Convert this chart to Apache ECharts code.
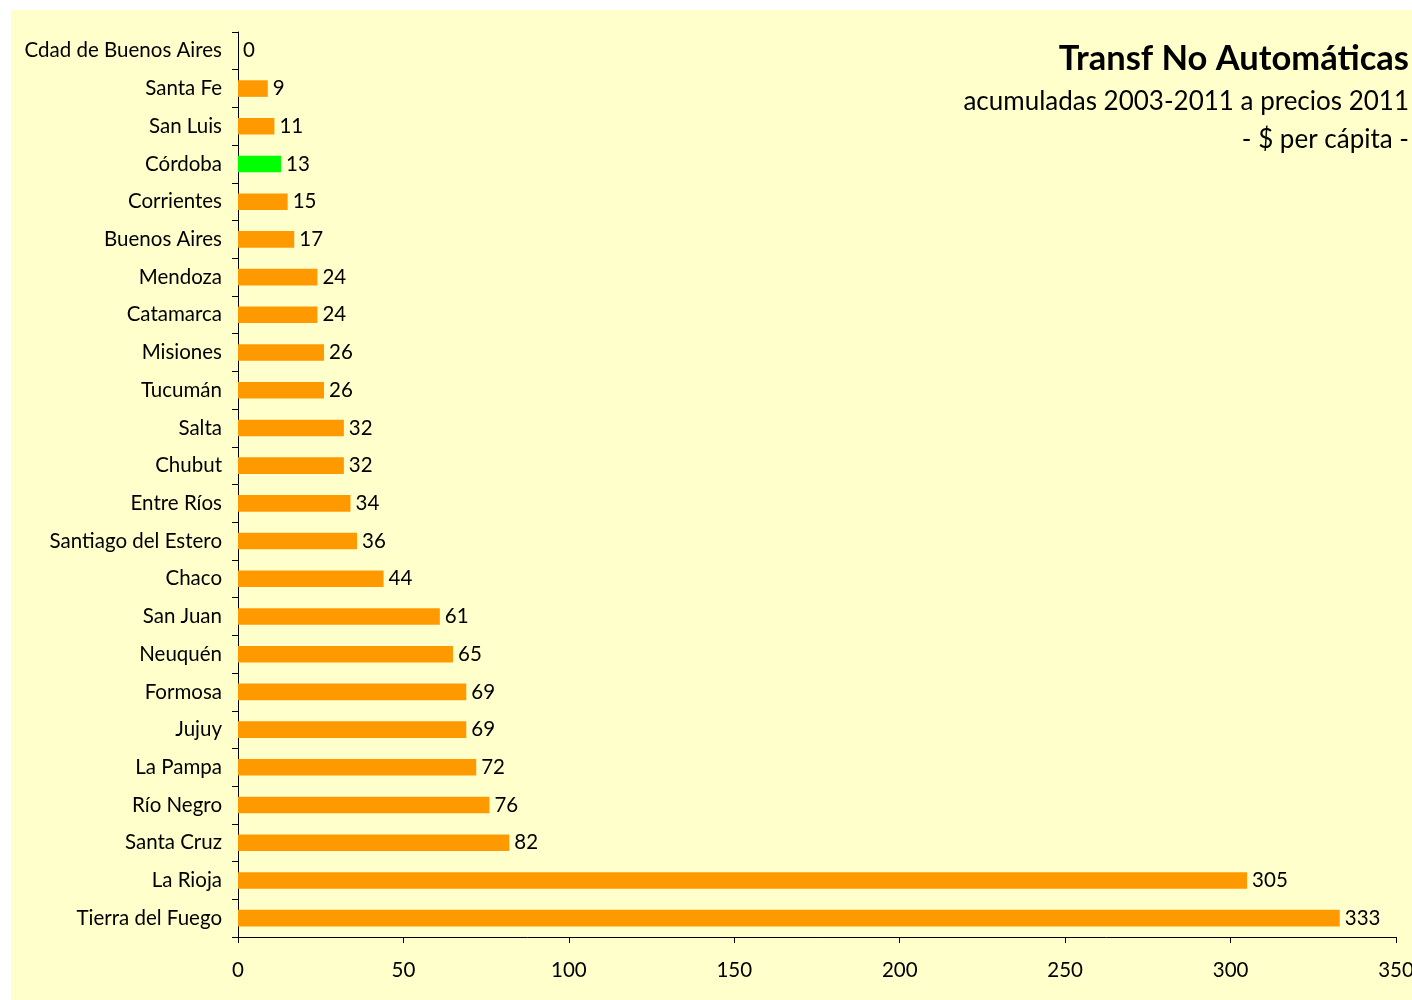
<!DOCTYPE html>
<html>
<head>
<meta charset="utf-8">
<script src="https://cdn.jsdelivr.net/npm/echarts@6/dist/echarts.min.js"></script>
<style>
html,body{margin:0;padding:0;background:#fff;}
#c{position:absolute;left:11px;top:10px;width:1401px;height:990px;background:#FFFFCC;}
</style>
</head>
<body>
<div id="c"></div>
<script>
const categories = ["Cdad de Buenos Aires","Santa Fe","San Luis","Córdoba","Corrientes","Buenos Aires","Mendoza","Catamarca","Misiones","Tucumán","Salta","Chubut","Entre Ríos","Santiago del Estero","Chaco","San Juan","Neuquén","Formosa","Jujuy","La Pampa","Río Negro","Santa Cruz","La Rioja","Tierra del Fuego"];
const values = [0,9,11,13,15,17,24,24,26,26,32,32,34,36,44,61,65,69,69,72,76,82,305,333];
const highlight = "Córdoba";
const titleText = "Transf No Automáticas";
const subtitleLines = ["acumuladas 2003-2011 a precios 2011", "- $ per cápita -"];

const FONT = "Lato, 'Open Sans', sans-serif";
const chart = echarts.init(document.getElementById('c'), null, {renderer:'canvas'});
chart.setOption({
  backgroundColor: '#FFFFCC',
  animation: false,
  graphic: [
    {type: 'text', right: 3, top: 31,
     style: {text: titleText, font: "bold 34.5px " + FONT, fill: '#000', textAlign: 'right'}},
    {type: 'text', right: 3, top: 79,
     style: {text: subtitleLines[0], font: "26px " + FONT, fill: '#000', textAlign: 'right'}},
    {type: 'text', right: 3, top: 117,
     style: {text: subtitleLines[1], font: "26px " + FONT, fill: '#000', textAlign: 'right'}}
  ],
  grid: {left: 227, right: 16, top: 22, bottom: 63, containLabel: false, outerBoundsMode: 'none'},
  xAxis: {
    type: 'value', min: 0, max: 350, interval: 50,
    axisLine: {show: true, lineStyle: {color: '#000'}},
    axisTick: {show: true, length: 6, lineStyle: {color: '#000'}},
    splitLine: {show: false},
    axisLabel: {fontFamily: FONT, fontSize: 20.5, color: '#000', margin: 23}
  },
  yAxis: {
    type: 'category', data: categories, inverse: true,
    axisLine: {show: true, lineStyle: {color: '#000'}},
    axisTick: {show: true, length: 6, lineStyle: {color: '#000'}},
    axisLabel: {fontFamily: FONT, fontSize: 20.5, color: '#000', margin: 16}
  },
  series: [{
    type: 'bar',
    data: values.map((v, i) => ({value: v, itemStyle: {color: categories[i] === highlight ? '#00FF00' : '#FF9900'}})),
    barWidth: '44%',
    label: {show: true, position: 'right', distance: 5, fontFamily: FONT, fontSize: 20.5, color: '#000'}
  }]
});
</script>
</body>
</html>
